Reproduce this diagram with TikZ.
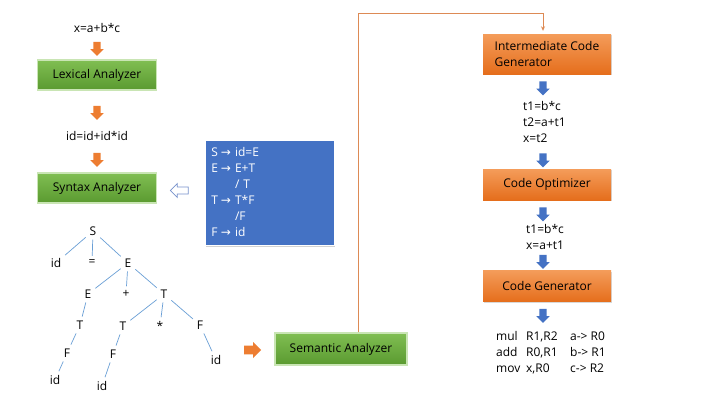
\documentclass[tikz,border=0pt]{standalone}
\usepackage{fontspec}
\setmainfont{Open Sans}
\newfontfamily\dejavu{DejaVu Sans}
\usetikzlibrary{shapes.arrows,shadows,arrows.meta}
\definecolor{gtop}{HTML}{80BE52}
\definecolor{gbot}{HTML}{5A9A30}
\definecolor{gglow}{HTML}{C9E5B4}
\definecolor{otop}{HTML}{F49C5A}
\definecolor{obot}{HTML}{E56E1C}
\definecolor{oarr}{HTML}{ED7D31}
\definecolor{barr}{HTML}{4472C4}
\definecolor{gram}{HTML}{4472C4}
\definecolor{treeline}{HTML}{6A9FD6}
\definecolor{conn}{HTML}{DD8A55}
\definecolor{hollow}{HTML}{7892CC}
\begin{document}
\begin{tikzpicture}[x=1pt,y=-1pt,
  every node/.style={font=\fontsize{12}{16}\selectfont},
  greenbox/.style={rectangle, draw=gglow, line width=1.5pt, top color=gtop, bottom color=gbot, minimum width=119pt, minimum height=30pt, inner sep=0pt},
  orangebox/.style={rectangle, top color=otop, bottom color=obot, minimum width=128pt, minimum height=31pt, inner sep=0pt, align=left, drop shadow={shadow xshift=0.6pt, shadow yshift=-1.2pt, opacity=0.3}},
  downarrow/.style={single arrow, shape border rotate=270, inner sep=3.5pt, minimum height=14pt, single arrow head extend=3pt, minimum width=13pt},
  oarrow/.style={downarrow, fill=oarr},
  barrow/.style={downarrow, fill=barr},
  tn/.style={inner sep=3pt},
  te/.style={draw=treeline, line width=0.7pt, shorten <=1pt, shorten >=1pt},
  codetext/.style={align=left, inner sep=0pt, anchor=west}
  ]
\useasboundingbox (0,0) rectangle (720,405);
\fill[white] (0,0) rectangle (720,405);

% left column
\node (src) at (97,28) {x=a+b*c};
\node[oarrow] (a1) at (97,47) {};
\node[greenbox] (lex) at (97,75) {Lexical Analyzer};
\node[oarrow] (a2) at (97,111) {};
\node (tok) at (97,136) {id=id+id*id};
\node[oarrow] (a3) at (97,158) {};
\node[greenbox] (syn) at (97,188) {Syntax Analyzer};

% hollow arrow and grammar
\node[single arrow, shape border rotate=180, draw=hollow, fill=white, line width=0.7pt, inner sep=3pt, minimum height=18pt, single arrow head extend=3.5pt, minimum width=14pt] (harr) at (181,190.5) {};
\node[rectangle, fill=gram, draw=white, line width=0.6pt, anchor=north west, minimum width=129pt, minimum height=105pt, inner xsep=6pt, inner ysep=4pt, text=white, align=left, text width=117pt,
  drop shadow={shadow xshift=1pt, shadow yshift=-1.5pt, opacity=0.35}] (gr) at (205,140)
  {\renewcommand\arraystretch{1}\begin{tabular}{@{}l@{\hspace{3pt}}l@{\hspace{4pt}}l@{}}
  S & {\dejavu →} & id=E\\
  E & {\dejavu →} & E+T\\
    &             & / T\\
  T & {\dejavu →} & T*F\\
    &             & /F\\
  F & {\dejavu →} & id
  \end{tabular}};

% parse tree
\node[tn] (S) at (93,231) {S};
\node[tn] (id1) at (56,263) {id};
\node[tn] (eq) at (92,263) {=};
\node[tn] (E1) at (128,263) {E};
\node[tn] (E2) at (88,294) {E};
\node[tn] (pl) at (126,294) {+};
\node[tn] (T1) at (164,294) {T};
\node[tn] (T2) at (80,325) {T};
\node[tn] (T3) at (123,326) {T};
\node[tn] (st) at (160,326) {*};
\node[tn] (F1) at (200,325) {F};
\node[tn] (F2) at (67,353) {F};
\node[tn] (F3) at (113,354) {F};
\node[tn] (id2) at (216,360) {id};
\node[tn] (id3) at (55,380) {id};
\node[tn] (id4) at (102,386) {id};
\draw[te] (S) -- (id1);
\draw[te] (S) -- (eq);
\draw[te] (S) -- (E1);
\draw[te] (E1) -- (E2);
\draw[te] (E1) -- (pl);
\draw[te] (E1) -- (T1);
\draw[te] (E2) -- (T2);
\draw[te] (T2) -- (F2);
\draw[te] (F2) -- (id3);
\draw[te] (T1) -- (T3);
\draw[te] (T1) -- (st);
\draw[te] (T1) -- (F1);
\draw[te] (T3) -- (F3);
\draw[te] (F3) -- (id4);
\draw[te] (F1) -- (id2);

% semantic analyzer
\node[single arrow, fill=oarr, inner sep=4pt, minimum height=17pt, single arrow head extend=3.5pt, minimum width=16pt] (a4) at (250.5,350) {};
\node[greenbox, minimum width=132pt, minimum height=32pt] (sem) at (341,349) {Semantic Analyzer};

% right column
\node[orangebox, minimum height=40pt] (icg) at (547,54) {Intermediate Code\\Generator};
\draw[conn, line width=0.8pt, -{Stealth[length=4.5pt,width=4pt]}] ([xshift=17pt]sem.north) |- ([xshift=-4pt,yshift=20pt]icg.north) -- ([xshift=-4pt,yshift=3pt]icg.north);
\node[barrow] (b1) at (543,86.5) {};
\node[codetext] (c1) at (523,122) {t1=b*c\\t2=a+t1\\x=t2};
\node[barrow] (b2) at (543,158.5) {};
\node[orangebox] (opt) at (547,184.5) {Code Optimizer};
\node[barrow] (b3) at (543,212.5) {};
\node[codetext] (c2) at (526,237) {t1=b*c\\x=a+t1};
\node[barrow] (b4) at (543,260) {};
\node[orangebox] (gen) at (547,286) {Code Generator};
\node[barrow] (b5) at (543,314) {};
\node[codetext] (c3) at (496,353)
  {\renewcommand\arraystretch{1}\begin{tabular}{@{}p{26pt}@{\hspace{4pt}}p{40pt}@{\hspace{4pt}}l@{}}
  mul & R1,R2 & a-> R0\\
  add & R0,R1 & b-> R1\\
  mov & x,R0 & c-> R2
  \end{tabular}};
\end{tikzpicture}
\end{document}
